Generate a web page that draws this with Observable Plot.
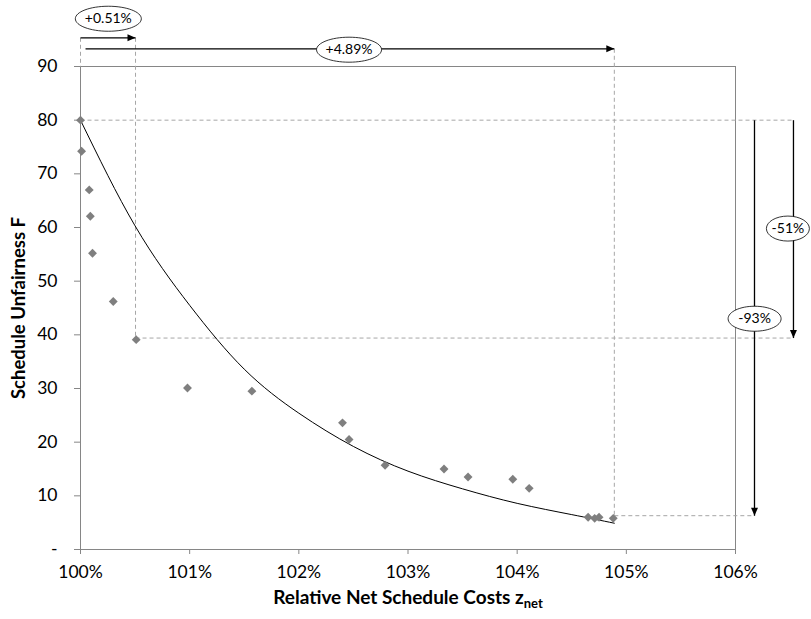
<!DOCTYPE html>
<html>
<head>
<meta charset="utf-8">
<script src="https://cdn.jsdelivr.net/npm/d3@7"></script>
<script src="https://cdn.jsdelivr.net/npm/@observablehq/plot@0.6"></script>
<style>
  html, body { margin: 0; padding: 0; background: #fff; }
</style>
</head>
<body>
<div id="chart"></div>
<script>
// ---- data ----
const costX = [100, 100.01, 100.08, 100.09, 100.11, 100.30, 100.51, 100.98, 101.57, 102.40, 102.46, 102.79, 103.33, 103.55, 103.96, 104.11, 104.65, 104.71, 104.75, 104.88];
const unfairY = [80, 74.2, 67.0, 62.1, 55.2, 46.2, 39.1, 30.1, 29.5, 23.6, 20.5, 15.7, 15.0, 13.5, 13.1, 11.4, 6.0, 5.8, 6.0, 5.8];

// trend curve
const trendX = [100, 100.5, 101, 101.5, 102, 102.5, 103, 103.5, 104, 104.5, 104.89];
const trendY = [80, 60.3, 45.5, 33.6, 25.4, 19.2, 14.6, 11.3, 8.6, 6.5, 4.9];

const xTicks = [100, 101, 102, 103, 104, 105, 106];
const yTicks = [0, 10, 20, 30, 40, 50, 60, 70, 80, 90];

// annotation values
const annoLabels = ["+0.51%", "+4.89%", "-51%", "-93%"];
const annoX = [100.255, 102.46, 106.48, 106.175];
const annoY = [98.9, 93.13, 59.8, 43.0];

// arrows: [x1, y1, x2, y2]
const arrowsH = [[100, 95.35, 100.504, 95.35], [100.046, 93.3, 104.89, 93.3]];
const arrowsV = [[106.174, 80, 106.174, 6.3], [106.531, 80, 106.531, 39.4]];
// dashed guides
const guides = [
  [100, 95.35, 100, 90],
  [100.504, 95.35, 100.504, 39.4],
  [104.89, 93.3, 104.89, 6.3],
  [100, 80, 106.531, 80],
  [100.504, 39.4, 106.531, 39.4],
  [104.89, 6.3, 106.174, 6.3]
];

// ---- derived tables ----
const points = costX.map((x, i) => ({x, y: unfairY[i]}));
const trend = trendX.map((x, i) => ({x, y: trendY[i]}));
const annos = annoLabels.map((t, i) => ({t, x: annoX[i], y: annoY[i]}));
const toLink = a => ({x1: a[0], y1: a[1], x2: a[2], y2: a[3]});

// custom symbols
function ellipse(w, h) {
  return {
    draw(ctx) {
      const a = w / 2, b = h / 2, k = 0.5523;
      ctx.moveTo(a, 0);
      ctx.bezierCurveTo(a, k * b, k * a, b, 0, b);
      ctx.bezierCurveTo(-k * a, b, -a, k * b, -a, 0);
      ctx.bezierCurveTo(-a, -k * b, -k * a, -b, 0, -b);
      ctx.bezierCurveTo(k * a, -b, a, -k * b, a, 0);
      ctx.closePath();
    }
  };
}
const headRight = {draw(ctx) { ctx.moveTo(0, 0); ctx.lineTo(-8, -3.5); ctx.lineTo(-8, 3.5); ctx.closePath(); }};
const headDown = {draw(ctx) { ctx.moveTo(0, 0); ctx.lineTo(-3.5, -8); ctx.lineTo(3.5, -8); ctx.closePath(); }};
const ellipseSizes = [[66, 25], [65, 25], [43, 25], [53, 25]];

const plot = Plot.plot({
  width: 811,
  height: 619,
  marginLeft: 80,
  marginRight: 76,
  marginTop: 66,
  marginBottom: 70,
  style: {fontFamily: "Lato, 'Open Sans', sans-serif", background: "#fff", overflow: "visible"},
  x: {domain: [100, 106]},
  y: {domain: [0, 90]},
  marks: [
    Plot.frame({stroke: "#868686"}),
    Plot.axisX({ticks: xTicks, tickFormat: d => d + "%", tickSize: 5, tickPadding: 11, fontSize: 17.5, stroke: "#868686", color: "#000", label: null}),
    Plot.axisY({ticks: yTicks, tickFormat: d => d === 0 ? "-" : String(d), tickSize: 6, tickPadding: 17, fontSize: 17.5, stroke: "#868686", color: "#000", label: null}),
    Plot.link(guides.map(toLink), {x1: "x1", y1: "y1", x2: "x2", y2: "y2", stroke: "#a6a6a6", strokeWidth: 1, strokeDasharray: "4,3"}),
    Plot.line(trend, {x: "x", y: "y", curve: "natural", stroke: "#000", strokeWidth: 1}),
    Plot.dot(points, {x: "x", y: "y", symbol: "diamond2", r: 4, fill: "#7f7f7f", stroke: "none"}),
    Plot.link(arrowsH.concat(arrowsV).map(toLink), {x1: "x1", y1: "y1", x2: "x2", y2: "y2", stroke: "#000", strokeWidth: 1.3}),
    Plot.dot(arrowsH.map(toLink), {x: "x2", y: "y2", symbol: headRight, r: 1, fill: "#000", stroke: "none"}),
    Plot.dot(arrowsV.map(toLink), {x: "x2", y: "y2", symbol: headDown, r: 1, fill: "#000", stroke: "none"}),
    ...annos.map((a, i) => Plot.dot([a], {x: "x", y: "y", symbol: ellipse(...ellipseSizes[i]), r: 1, fill: "#fff", stroke: "#000", strokeWidth: 0.8})),
    Plot.text(annos, {x: "x", y: "y", text: "t", fontSize: 14, fill: "#000"}),
    Plot.text(["Relative Net Schedule Costs z"], {frameAnchor: "bottom", dy: 54, fontSize: 19, fontWeight: "bold", fill: "#000"}),
    Plot.text(["Schedule Unfairness F"], {frameAnchor: "left", dx: -61, rotate: -90, textAnchor: "middle", lineAnchor: "middle", fontSize: 18.5, fontWeight: "bold", fill: "#000"})
  ]
});

// subscript for the x-axis title
d3.select(plot).selectAll("text")
  .filter(function () { return this.textContent === "Relative Net Schedule Costs z"; })
  .append("tspan").attr("dy", "0.35em").attr("font-size", "13px").text("net");

document.getElementById("chart").appendChild(plot);
</script>
</body>
</html>
